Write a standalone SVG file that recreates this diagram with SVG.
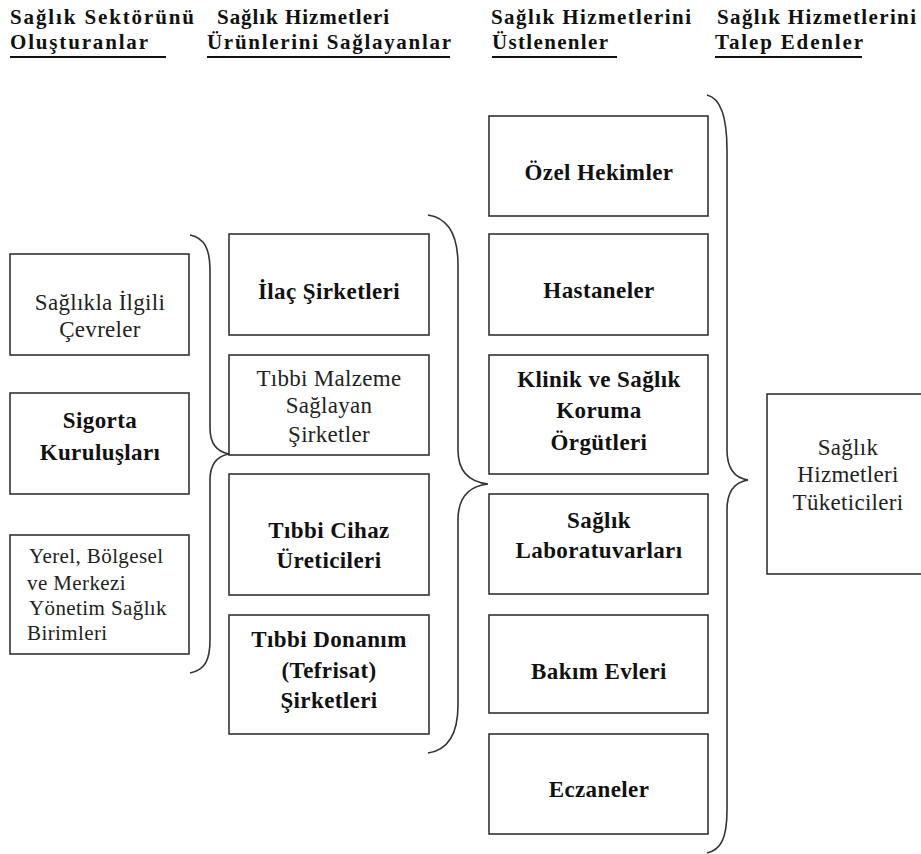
<svg xmlns="http://www.w3.org/2000/svg" width="921" height="854" viewBox="0 0 921 854">
<style>
.bg{fill:#fff}
.box{fill:#fff;stroke:#333;stroke-width:1.6}
.brace{fill:none;stroke:#333;stroke-width:1.6}
.hd{font-family:'Liberation Serif','DejaVu Serif',serif;font-weight:bold;font-size:21px;fill:#111}
.ul{stroke:#111;stroke-width:2}
.b{font-family:'Liberation Serif','DejaVu Serif',serif;font-weight:bold;font-size:23px;letter-spacing:0.4px;fill:#111;text-anchor:middle}
.r{font-family:'Liberation Serif','DejaVu Serif',serif;font-size:23px;letter-spacing:0.3px;fill:#222;text-anchor:middle}
.s{font-family:'Liberation Serif','DejaVu Serif',serif;font-size:21px;letter-spacing:0.4px;fill:#222}
</style>
<rect class="bg" x="0" y="0" width="921" height="854"/>
<g id="headers">
<text class="hd" x="10" y="24" textLength="184" lengthAdjust="spacing">Sağlık Sektörünü</text>
<text class="hd" x="10" y="49" textLength="138" lengthAdjust="spacing">Oluşturanlar</text>
<line class="ul" x1="10" y1="57" x2="166" y2="57"/>
<text class="hd" x="217" y="24" textLength="172" lengthAdjust="spacing">Sağlık Hizmetleri</text>
<text class="hd" x="207" y="49" textLength="244" lengthAdjust="spacing">Ürünlerini Sağlayanlar</text>
<line class="ul" x1="207" y1="57" x2="450" y2="57"/>
<text class="hd" x="491" y="24" textLength="200" lengthAdjust="spacing">Sağlık Hizmetlerini</text>
<text class="hd" x="492" y="49" textLength="116" lengthAdjust="spacing">Üstlenenler</text>
<line class="ul" x1="492" y1="57" x2="617" y2="57"/>
<text class="hd" x="717" y="24" textLength="199" lengthAdjust="spacing">Sağlık Hizmetlerini</text>
<text class="hd" x="715" y="49" textLength="148" lengthAdjust="spacing">Talep Edenler</text>
<line class="ul" x1="715" y1="57" x2="862" y2="57"/>
</g>
<g id="connectors">
<path class="brace" d="M190,235 C205,238 210,250 210,270 L210,428 C210,445 218,452 229,454 C218,456 210,463 210,480 L210,640 C210,660 205,670 190,673"/>
<path class="brace" d="M428,215 C448,218 458,235 458,265 L458,450 C458,472 470,482 488,484 C470,486 458,496 458,520 L458,705 C458,735 448,750 428,753"/>
<path class="brace" d="M707,95 C720,98 727,115 727,150 L727,450 C727,470 735,478 748,480 C735,482 727,490 727,510 L727,810 C727,840 720,850 707,853"/>
</g>
<g id="n-saglikla">
<rect class="box" x="10" y="254" width="179" height="101"/>
<text class="r" x="100" y="310">Sağlıkla İlgili</text>
<text class="r" x="100" y="337">Çevreler</text>
</g>
<g id="n-sigorta">
<rect class="box" x="10" y="393" width="179" height="101"/>
<text class="b" x="100" y="428">Sigorta</text>
<text class="b" x="100" y="460">Kuruluşları</text>
</g>
<g id="n-yerel">
<rect class="box" x="10" y="535" width="179" height="119"/>
<text class="s" x="29" y="563">Yerel, Bölgesel</text>
<text class="s" x="27" y="590">ve Merkezi</text>
<text class="s" x="29" y="615">Yönetim Sağlık</text>
<text class="s" x="27" y="640">Birimleri</text>
</g>
<g id="n-ilac">
<rect class="box" x="229" y="234" width="200" height="101"/>
<text class="b" x="329" y="299">İlaç Şirketleri</text>
</g>
<g id="n-malzeme">
<rect class="box" x="229" y="355" width="200" height="100"/>
<text class="r" x="329" y="386">Tıbbi Malzeme</text>
<text class="r" x="329" y="413">Sağlayan</text>
<text class="r" x="329" y="442">Şirketler</text>
</g>
<g id="n-cihaz">
<rect class="box" x="229" y="474" width="200" height="121"/>
<text class="b" x="329" y="538">Tıbbi Cihaz</text>
<text class="b" x="329" y="568">Üreticileri</text>
</g>
<g id="n-donanim">
<rect class="box" x="229" y="615" width="200" height="119"/>
<text class="b" x="329" y="647">Tıbbi Donanım</text>
<text class="b" x="329" y="678">(Tefrisat)</text>
<text class="b" x="329" y="708">Şirketleri</text>
</g>
<g id="n-ozel">
<rect class="box" x="489" y="116" width="219" height="100"/>
<text class="b" x="599" y="180">Özel Hekimler</text>
</g>
<g id="n-hastaneler">
<rect class="box" x="489" y="234" width="219" height="101"/>
<text class="b" x="599" y="298">Hastaneler</text>
</g>
<g id="n-klinik">
<rect class="box" x="489" y="355" width="219" height="119"/>
<text class="b" x="599" y="387">Klinik ve Sağlık</text>
<text class="b" x="599" y="418">Koruma</text>
<text class="b" x="599" y="450">Örgütleri</text>
</g>
<g id="n-lab">
<rect class="box" x="489" y="494" width="219" height="100"/>
<text class="b" x="599" y="528">Sağlık</text>
<text class="b" x="599" y="558">Laboratuvarları</text>
</g>
<g id="n-bakim">
<rect class="box" x="489" y="615" width="219" height="98"/>
<text class="b" x="599" y="679">Bakım Evleri</text>
</g>
<g id="n-eczaneler">
<rect class="box" x="489" y="734" width="219" height="100"/>
<text class="b" x="599" y="797">Eczaneler</text>
</g>
<g id="n-tuketici">
<rect class="box" x="767" y="394" width="160" height="180"/>
<text class="r" x="848" y="455">Sağlık</text>
<text class="r" x="848" y="482">Hizmetleri</text>
<text class="r" x="848" y="510">Tüketicileri</text>
</g>
</svg>
